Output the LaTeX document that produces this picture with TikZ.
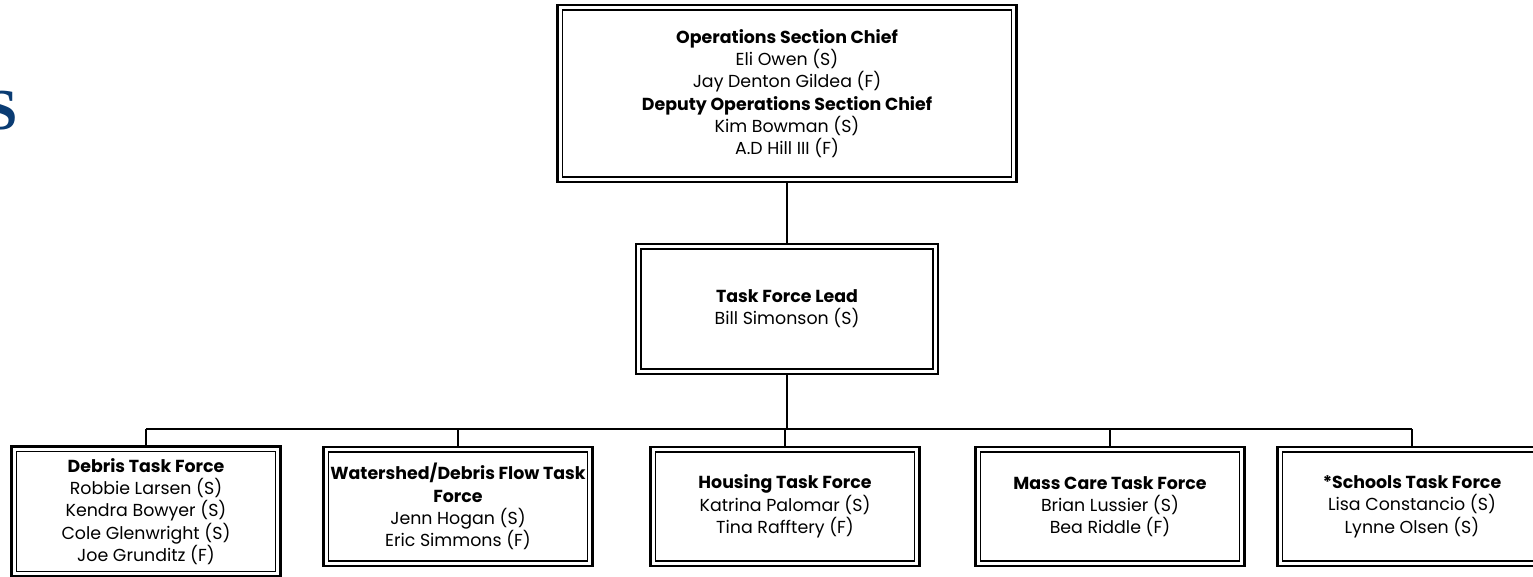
\documentclass[tikz,border=0pt]{standalone}
\usepackage{fontspec}
\setmainfont{Poppins}
\definecolor{logoblue}{RGB}{10,60,115}
\tikzset{
orgbox/.style={draw,line width=0.045cm,fill=white,align=center,outer sep=0pt,inner sep=0pt,
  font=\fontsize{9.9pt}{12.7pt}\selectfont},
chiefbox/.style={orgbox,minimum width=9.18cm,minimum height=3.54cm},
leadbox/.style={orgbox,minimum width=6.04cm,minimum height=2.6cm},
teambox/.style={orgbox,minimum width=5.38cm,minimum height=2.38cm},
innerframe/.style={line width=0.028cm},
trunk/.style={line width=0.045cm},
drop/.style={line width=0.028cm}
}
\begin{document}
\begin{tikzpicture}[x=0.02cm,y=-0.02cm]
\path[use as bounding box,clip](0,0)rectangle(1533,576);
\node[anchor=base east,text=logoblue,font=\fontsize{33pt}{33pt}\fontspec{Liberation Serif}\bfseries,inner sep=0pt](logo)at(18,129){S};
\node[chiefbox](chief)at(787,93.5){\textbf{Operations Section Chief}\\Eli Owen (S)\\Jay Denton Gildea (F)\\\textbf{Deputy Operations Section Chief}\\Kim Bowman (S)\\A.D Hill III (F)};
\node[leadbox](lead)at(787,309){\textbf{Task Force Lead}\\Bill Simonson (S)};
\node[teambox,minimum height=2.6cm](debris)at(146,511.5){\textbf{Debris Task Force}\\Robbie Larsen (S)\\Kendra Bowyer (S)\\Cole Glenwright (S)\\Joe Grunditz (F)};
\node[teambox](watershed)at(458,506.5){\textbf{Watershed/Debris Flow Task}\\\textbf{Force}\\Jenn Hogan (S)\\Eric Simmons (F)};
\node[teambox](housing)at(785,506.5){\textbf{Housing Task Force}\\Katrina Palomar (S)\\Tina Rafftery (F)};
\node[teambox](masscare)at(1110,506.5){\textbf{Mass Care Task Force}\\Brian Lussier (S)\\Bea Riddle (F)};
\node[teambox](schools)at(1412,506.5){\textbf{*Schools Task Force}\\Lisa Constancio (S)\\Lynne Olsen (S)};
\coordinate(bus)at(787,429);
\foreach \n in{chief,lead,debris,watershed,housing,masscare,schools}
\draw[innerframe]([xshift=0.1cm,yshift=-0.1cm]\n.north west)rectangle([xshift=-0.1cm,yshift=0.1cm]\n.south east);
\draw[trunk](chief.south)--(lead.north);
\draw[trunk](lead.south)--(bus);
\draw[trunk](debris.north|-bus)--(schools.north|-bus);
\foreach \n in{debris,watershed,housing,masscare,schools}
\draw[drop](\n.north|-bus)--(\n.north);
\end{tikzpicture}
\end{document}
